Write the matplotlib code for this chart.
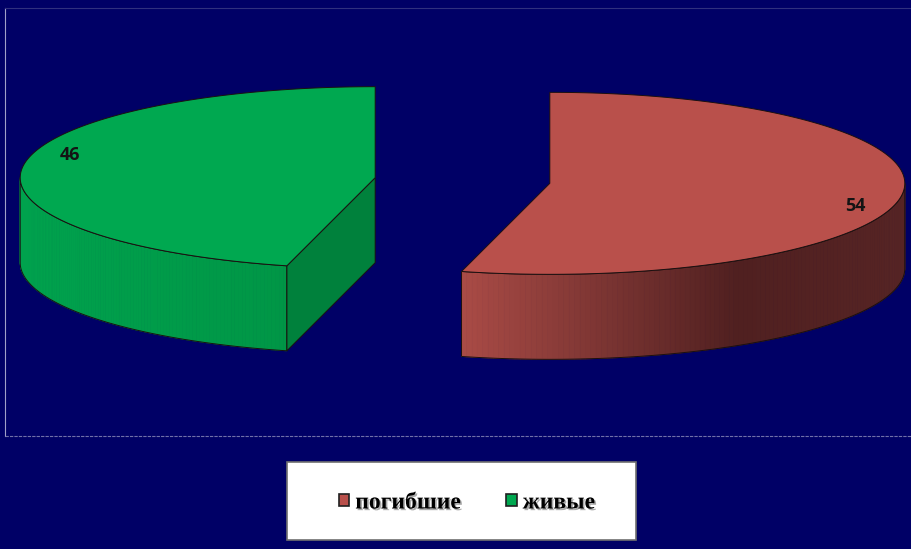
import numpy as np
import matplotlib
matplotlib.use("Agg")
import matplotlib.pyplot as plt
from matplotlib.patches import Polygon, Patch
import matplotlib.patheffects as pe

# данные
labels = ["погибшие", "живые"]
values = [54, 46]
top_colors = ["#B9504B", "#00A850"]
cut_colors = ["#7A302C", "#00813C"]
# градиент боковой стенки (слева -> справа)
wall_grad = [
    [(0.00, (170, 75, 70)), (0.62, (80, 32, 32)), (1.00, (86, 36, 36))],
    [(0.00, (0, 162, 77)), (1.00, (0, 150, 70))],
]

bg = "#000066"

# геометрия "3D" диаграммы (в пикселях)
cx0, cy0 = 462.5, 180.5
a, b = 355, 91
depth = 85
explode = 88


def pt(cx, cy, t, dy=0.0):
    t = np.radians(t)
    return cx + a * np.cos(t), cy - b * np.sin(t) + dy


def grad_color(stops, u):
    for (u0, c0), (u1, c1) in zip(stops[:-1], stops[1:]):
        if u <= u1:
            k = (u - u0) / (u1 - u0) if u1 > u0 else 0
            return tuple((c0[i] + k * (c1[i] - c0[i])) / 255 for i in range(3))
    return tuple(c / 255 for c in stops[-1][1])


fig = plt.figure(figsize=(9.11, 5.49), dpi=100, facecolor=bg)
ax = fig.add_axes([0, 0, 1, 1])
ax.set_xlim(0, 911)
ax.set_ylim(549, 0)
ax.axis("off")
ax.set_facecolor(bg)

# рамка области построения
ax.plot([5, 5], [8, 436], color="#a0a0c8", lw=0.8)
ax.plot([5, 911], [436, 436], color="#7070a8", lw=0.8, ls=(0, (3, 1)))
ax.plot([5, 911], [8, 8], color="#30307f", lw=0.8)

total = sum(values)
start = 90.0
edge = "#1a1010"
for i, v in enumerate(values):
    sweep = 360.0 * v / total
    t1, t2 = start - sweep, start  # угол от t1 до t2 (против часовой)
    mid = (t1 + t2) / 2
    cx = cx0 + explode * np.cos(np.radians(mid))
    cy = cy0 - explode * (b / a) * np.sin(np.radians(mid))

    # внешняя стенка (видна передняя половина)
    lo, hi = max(t1, -180.0), min(t2, 0.0)
    if hi > lo:
        ts = np.linspace(lo, hi, 120)
        xs = [pt(cx, cy, t)[0] for t in ts]
        xmin, xmax = min(xs), max(xs)
        for ta, tb in zip(ts[:-1], ts[1:]):
            p1, p2 = pt(cx, cy, ta), pt(cx, cy, tb)
            q2, q1 = pt(cx, cy, tb, depth), pt(cx, cy, ta, depth)
            u = ((p1[0] + p2[0]) / 2 - xmin) / (xmax - xmin)
            col = grad_color(wall_grad[i], u)
            ax.add_patch(Polygon([p1, p2, q2, q1], closed=True, facecolor=col,
                                 edgecolor=col, lw=0.6))
        top = [pt(cx, cy, t) for t in ts]
        bot = [pt(cx, cy, t, depth) for t in ts[::-1]]
        ax.add_patch(Polygon(top + bot, closed=True, fill=False, edgecolor=edge, lw=0.7))

    # срез (видимая грань у конца сектора)
    if np.sin(np.radians(t2)) < 0 and np.cos(np.radians(t2)) < 0.5:
        pr = pt(cx, cy, t2)
        ax.add_patch(Polygon([(cx, cy), pr, (pr[0], pr[1] + depth), (cx, cy + depth)],
                             closed=True, facecolor=cut_colors[i], edgecolor=edge, lw=0.7))

    # верхняя грань
    ts = np.linspace(t1, t2, 200)
    poly = [(cx, cy)] + [pt(cx, cy, t) for t in ts]
    ax.add_patch(Polygon(poly, closed=True, facecolor=top_colors[i], edgecolor=edge, lw=0.7))

    # подпись значения
    lt = np.radians(mid - 9)
    lx = cx + 0.895 * a * np.cos(lt)
    ly = cy - 0.895 * b * np.sin(lt)
    ax.text(lx, ly, str(v), ha="center", va="center", fontsize=13,
            fontweight="bold", family="Open Sans", color="#141414")

    start = t1

# легенда
ax.add_patch(plt.Rectangle((287, 462), 349, 78, facecolor="white", edgecolor="#707070", lw=1.2))
handles = [Patch(facecolor=top_colors[k], edgecolor="#202020", lw=1.2) for k in range(2)]
leg = ax.legend(handles, labels, loc="center", ncol=2, frameon=False,
                bbox_to_anchor=(467 / 911, 1 - 503 / 549),
                prop={"family": "Liberation Serif", "weight": "bold", "size": 17},
                handlelength=0.45, handleheight=0.45, handletextpad=0.25,
                columnspacing=1.9)
for t in leg.get_texts():
    t.set_path_effects([pe.SimplePatchShadow(offset=(1.2, -1.2), shadow_rgbFace="0.45", alpha=0.6),
                        pe.Normal()])

fig.savefig("out.png", dpi=100, facecolor=bg)
